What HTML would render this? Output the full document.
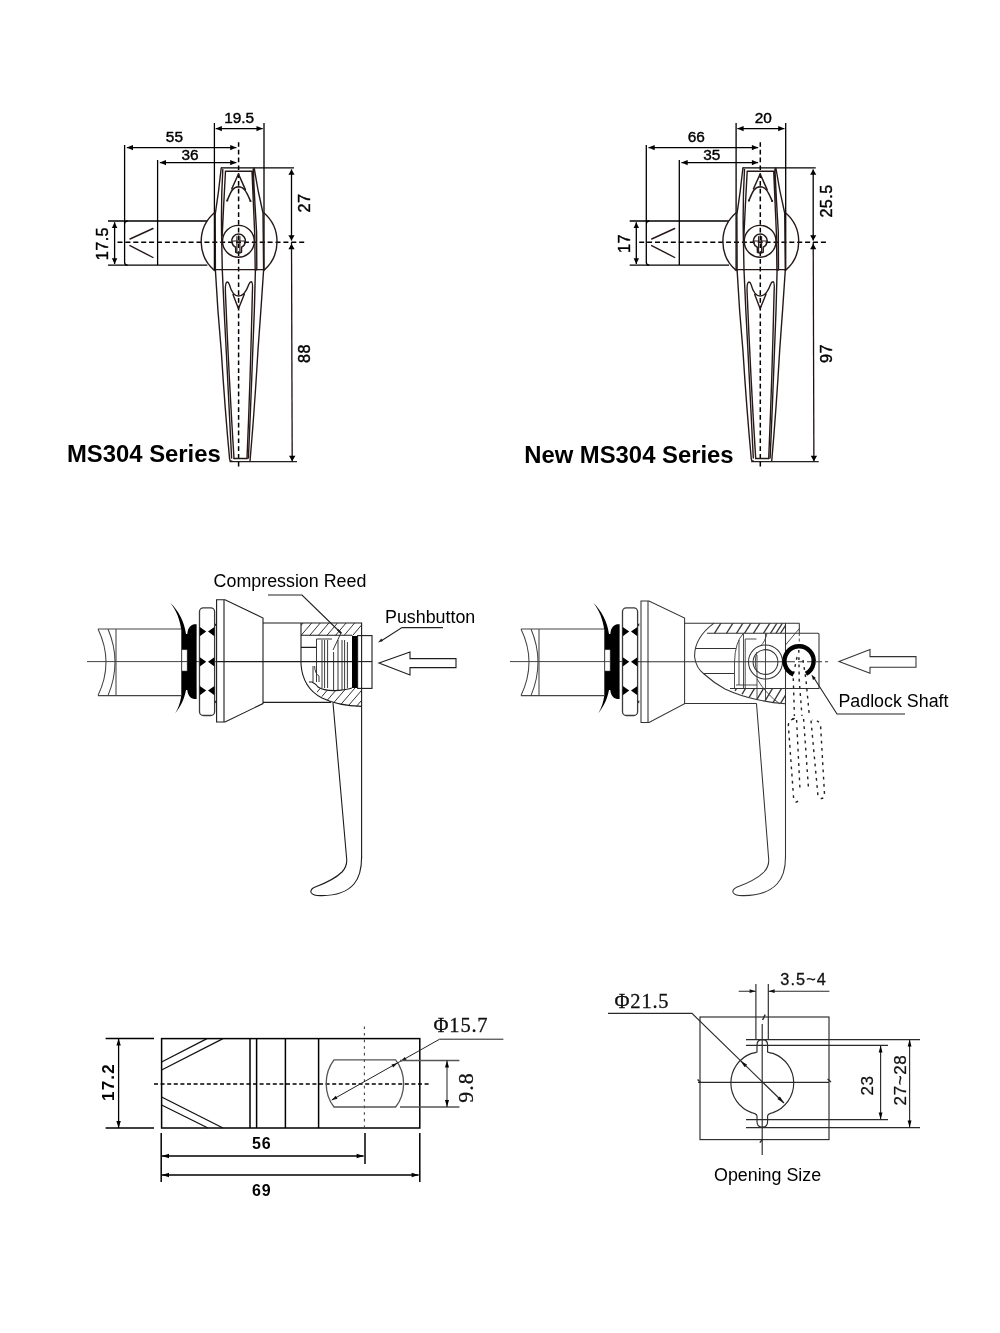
<!DOCTYPE html>
<html lang="en">
<head>
<meta charset="utf-8">
<title>MS304 Series Handle Lock Drawing</title>
<style>
html,body{margin:0;padding:0;background:#fff;}
body{width:1000px;height:1333px;overflow:hidden;font-family:"Liberation Sans",Arial,Helvetica,sans-serif;}
svg{display:block;position:absolute;left:0;top:0;will-change:transform;}
text{font-family:"Liberation Sans",Arial,Helvetica,sans-serif;fill:#000;}
.d{stroke:#000;stroke-width:1.3;fill:none;}
.c{stroke:#000;stroke-width:1.5;stroke-dasharray:5 2.9;fill:none;}
.h{stroke:#261818;stroke-width:1.4;stroke-linejoin:round;stroke-linecap:round;}
.t{stroke:#111;stroke-width:1.15;}
.tt{stroke:#222;stroke-width:0.9;}
.hh{stroke:#2a2a2a;stroke-width:0.95;}
#d3 .t{stroke:#1c1c1c;stroke-width:1.1;}
#d4 .t{stroke:#333;stroke-width:1.05;}
#d4 .tt{stroke:#3a3a3a;stroke-width:0.9;}
#d4 .p{stroke:#222;stroke-width:1.4;}
.k{fill:#000;stroke:none;}
.p{stroke:#111;stroke-width:1.5;stroke-dasharray:2.8 4.4;}
.r{stroke:#000;stroke-width:4.4;stroke-linecap:butt;}
.d5{stroke:#000;stroke-width:1.5;}
.d5t{stroke:#111;stroke-width:1.3;}
.c5{stroke:#000;stroke-width:1.3;stroke-dasharray:4 2.6;}
.c5v{stroke:#444;stroke-width:1.1;stroke-dasharray:2.6 4;}
.g5{stroke:#555;stroke-width:1.3;}
.g5d{stroke:#222;stroke-width:1;}
.g6{stroke:#2a2a2a;stroke-width:1.15;}
.dt{font-size:15.4px;text-anchor:middle;stroke:#000;stroke-width:0.4px;}
.dt2{font-size:16.2px;text-anchor:middle;stroke:#000;stroke-width:0.4px;letter-spacing:0.4px;}
.bt{font-size:16px;font-weight:bold;text-anchor:middle;letter-spacing:1px;}
.pt{font-size:17px;text-anchor:middle;fill:#111;letter-spacing:0.6px;stroke:#111;stroke-width:0.25px;}
.st{font-family:"Liberation Serif","DejaVu Serif",serif;font-size:20.5px;text-anchor:middle;fill:#111;letter-spacing:0.8px;stroke:#111;stroke-width:0.3px;}
.pt2{font-size:16.3px;text-anchor:middle;fill:#111;letter-spacing:1.1px;stroke:#111;stroke-width:0.3px;}
.lt{font-size:17.85px;}
.ld{stroke:#222;stroke-width:1.1;}
.title{font-size:23.85px;font-weight:bold;}
</style>
</head>
<body>
<svg width="1000" height="1333" viewBox="0 0 1000 1333">
<rect x="0" y="0" width="1000" height="1333" fill="#ffffff"/>
<g id="d1">
<line x1="214.4" y1="123" x2="214.4" y2="270" class="d"/>
<line x1="264" y1="123" x2="264" y2="270" class="d"/>
<line x1="215.7" y1="128.6" x2="262.7" y2="128.6" class="d"/><polygon points="215.7,128.6 221.9,126.0 221.9,131.2" fill="#000"/><polygon points="262.7,128.6 256.5,131.2 256.5,126.0" fill="#000"/>
<line x1="124.6" y1="145" x2="124.6" y2="222" class="d"/>
<line x1="126.8" y1="147.6" x2="236.4" y2="147.6" class="d"/><polygon points="126.8,147.6 133.0,145.0 133.0,150.2" fill="#000"/><polygon points="236.4,147.6 230.2,150.2 230.2,145.0" fill="#000"/>
<line x1="157.6" y1="160" x2="157.6" y2="265" class="d"/>
<line x1="159.8" y1="162.6" x2="236.4" y2="162.6" class="d"/><polygon points="159.8,162.6 166.0,160.0 166.0,165.2" fill="#000"/><polygon points="236.4,162.6 230.2,165.2 230.2,160.0" fill="#000"/>
<line x1="221" y1="167.8" x2="294" y2="167.8" class="d"/>
<line x1="229.5" y1="461.6" x2="297" y2="461.6" class="d" style="stroke:#222;stroke-width:1.3"/>
<line x1="291.5" y1="169.4" x2="291.5" y2="240.6" class="d"/><polygon points="291.5,169.4 294.6,174.8 288.4,174.8" fill="#000"/><polygon points="291.5,240.6 288.4,235.2 294.6,235.2" fill="#000"/>
<line x1="291.5" y1="242.2" x2="292.2" y2="461.7" class="d" style="stroke:#1c1010"/><polygon points="291.5,243.8 294.6,249.2 288.4,249.2" fill="#000"/><polygon points="292.2,461.2 289.0,455.8 295.4,455.8" fill="#000"/>
<line x1="108" y1="221" x2="207.3" y2="221" class="d"/>
<line x1="108" y1="265.2" x2="207.3" y2="265.2" class="d"/>
<line x1="114.6" y1="222.2" x2="114.6" y2="264" class="d"/><polygon points="114.6,222.2 117.3,228.0 111.9,228.0" fill="#000"/><polygon points="114.6,264.0 111.9,258.2 117.3,258.2" fill="#000"/>
<line x1="117.5" y1="242.2" x2="306.5" y2="242.2" class="c"/>
<line x1="238.6" y1="466.5" x2="238.6" y2="142.2" class="c" style="stroke-dasharray:4.7 3.1"/>
<path d="M124.6,222 V262.2 Q124.6,265.2 127.6,265.2 M124.6,224 Q124.6,221 127.6,221" class="d" style="fill:none"/>
<line x1="130" y1="239" x2="153" y2="228.5" class="h"/>
<line x1="130" y1="245.6" x2="153" y2="257.5" class="h"/>
<path d="M214.4,212.8 A38,38 0 0 0 214.6,270.6 M263.8,212.8 A38,38 0 0 1 263.6,270.6" class="h" style="fill:none"/>
<line x1="215" y1="269.6" x2="263.6" y2="269.6" class="h"/>
<path d="M221.2,168 Q219,190 215.2,214.5 L215.4,270 M222.8,169.5 Q221,200 221.6,235 L222.3,270 M225.3,171.2 H252 M225.5,171.2 Q223.6,205 222.2,236 M252,171.2 Q253.6,205 254.8,236 L255.2,270 M254.2,168 Q257.5,190 263,213 L263.6,270 M253.2,169 Q254.6,200 256.6,232 L256.8,270" class="h" style="fill:none"/>
<path d="M227.1,200.7 C230.3,193.5 232,186.8 238.46,186.7 C244.9,186.8 247.2,193.8 250.6,201.3" class="h" style="fill:none;stroke-width:1.5"/>
<path d="M231.8,188.8 L238.46,174 L245.4,189.6" class="h" style="fill:none;stroke-width:1.5"/>
<circle cx="227.3" cy="200.6" r="1" fill="#261818"/><circle cx="250.4" cy="201" r="1" fill="#261818"/>
<circle cx="238.4" cy="241.3" r="15.9" class="h" fill="none"/>
<path d="M235.6,247.2 A6.9,6.9 0 1 1 241.6,247.2 L241.4,252.4 Q238.6,253.8 235.8,252.4 Z" class="h" style="fill:none;stroke-width:1.5"/>
<path d="M236.9,236.6 V252.6 M239.9,236.6 V252.6 M232.4,241 H245" class="h" style="fill:none;stroke-width:1.1"/>
<path d="M215.4,270 Q217.5,310 221.2,350 Q225,410 229.6,459 Q229.8,461.2 232,461.3 M263.6,270 Q261,310 258,350 Q254.5,410 250,461.3 M222.3,270 Q224,310 226.2,350 Q229,410 231.6,458 M255.4,270 Q254.6,310 252.8,350 Q250.6,410 248.4,458 M234,458.5 H247" class="h" style="fill:none"/>
<path d="M234,458.5 Q229,380 225.4,292 Q225,282.4 227.2,282 Q228.6,282 229.4,284.6 C231,290.6 233.6,296 238.5,296 C243.6,296 246.6,290.6 248.8,284.4 Q249.8,281.8 251.4,281.8 Q253,282 252.4,292 Q250.4,380 247,458.5 M233,294.6 L238.46,308.7 L244.3,294.2" class="h" style="fill:none"/>
<text x="239.2" y="123.2" class="dt">19.5</text>
<text x="174.4" y="141.8" class="dt">55</text>
<text x="190" y="159.8" class="dt">36</text>
<text x="310" y="203" class="dt2" transform="rotate(-90 310 203)">27</text>
<text x="310" y="353.5" class="dt2" transform="rotate(-90 310 353.5)">88</text>
<text x="108.4" y="243.6" class="dt2" transform="rotate(-90 108.4 243.6)">17.5</text>
</g>
<g id="d2" transform="translate(521.7 0)">
<line x1="214.4" y1="123" x2="214.4" y2="270" class="d"/>
<line x1="264" y1="123" x2="264" y2="270" class="d"/>
<line x1="215.7" y1="128.6" x2="262.7" y2="128.6" class="d"/><polygon points="215.7,128.6 221.9,126.0 221.9,131.2" fill="#000"/><polygon points="262.7,128.6 256.5,131.2 256.5,126.0" fill="#000"/>
<line x1="124.6" y1="145" x2="124.6" y2="222" class="d"/>
<line x1="126.8" y1="147.6" x2="236.4" y2="147.6" class="d"/><polygon points="126.8,147.6 133.0,145.0 133.0,150.2" fill="#000"/><polygon points="236.4,147.6 230.2,150.2 230.2,145.0" fill="#000"/>
<line x1="157.6" y1="160" x2="157.6" y2="265" class="d"/>
<line x1="159.8" y1="162.6" x2="236.4" y2="162.6" class="d"/><polygon points="159.8,162.6 166.0,160.0 166.0,165.2" fill="#000"/><polygon points="236.4,162.6 230.2,165.2 230.2,160.0" fill="#000"/>
<line x1="221" y1="167.8" x2="294" y2="167.8" class="d"/>
<line x1="229.5" y1="461.6" x2="297" y2="461.6" class="d" style="stroke:#222;stroke-width:1.3"/>
<line x1="291.5" y1="169.4" x2="291.5" y2="240.6" class="d"/><polygon points="291.5,169.4 294.6,174.8 288.4,174.8" fill="#000"/><polygon points="291.5,240.6 288.4,235.2 294.6,235.2" fill="#000"/>
<line x1="291.5" y1="242.2" x2="292.2" y2="461.7" class="d" style="stroke:#1c1010"/><polygon points="291.5,243.8 294.6,249.2 288.4,249.2" fill="#000"/><polygon points="292.2,461.2 289.0,455.8 295.4,455.8" fill="#000"/>
<line x1="108" y1="221" x2="207.3" y2="221" class="d"/>
<line x1="108" y1="265.2" x2="207.3" y2="265.2" class="d"/>
<line x1="114.6" y1="222.2" x2="114.6" y2="264" class="d"/><polygon points="114.6,222.2 117.3,228.0 111.9,228.0" fill="#000"/><polygon points="114.6,264.0 111.9,258.2 117.3,258.2" fill="#000"/>
<line x1="117.5" y1="242.2" x2="306.5" y2="242.2" class="c"/>
<line x1="238.6" y1="466.5" x2="238.6" y2="142.2" class="c" style="stroke-dasharray:4.7 3.1"/>
<path d="M124.6,222 V262.2 Q124.6,265.2 127.6,265.2 M124.6,224 Q124.6,221 127.6,221" class="d" style="fill:none"/>
<line x1="130" y1="239" x2="153" y2="228.5" class="h"/>
<line x1="130" y1="245.6" x2="153" y2="257.5" class="h"/>
<path d="M214.4,212.8 A38,38 0 0 0 214.6,270.6 M263.8,212.8 A38,38 0 0 1 263.6,270.6" class="h" style="fill:none"/>
<line x1="215" y1="269.6" x2="263.6" y2="269.6" class="h"/>
<path d="M221.2,168 Q219,190 215.2,214.5 L215.4,270 M222.8,169.5 Q221,200 221.6,235 L222.3,270 M225.3,171.2 H252 M225.5,171.2 Q223.6,205 222.2,236 M252,171.2 Q253.6,205 254.8,236 L255.2,270 M254.2,168 Q257.5,190 263,213 L263.6,270 M253.2,169 Q254.6,200 256.6,232 L256.8,270" class="h" style="fill:none"/>
<path d="M227.1,200.7 C230.3,193.5 232,186.8 238.46,186.7 C244.9,186.8 247.2,193.8 250.6,201.3" class="h" style="fill:none;stroke-width:1.5"/>
<path d="M231.8,188.8 L238.46,174 L245.4,189.6" class="h" style="fill:none;stroke-width:1.5"/>
<circle cx="227.3" cy="200.6" r="1" fill="#261818"/><circle cx="250.4" cy="201" r="1" fill="#261818"/>
<circle cx="238.4" cy="241.3" r="15.9" class="h" fill="none"/>
<path d="M235.6,247.2 A6.9,6.9 0 1 1 241.6,247.2 L241.4,252.4 Q238.6,253.8 235.8,252.4 Z" class="h" style="fill:none;stroke-width:1.5"/>
<path d="M236.9,236.6 V252.6 M239.9,236.6 V252.6 M232.4,241 H245" class="h" style="fill:none;stroke-width:1.1"/>
<path d="M215.4,270 Q217.5,310 221.2,350 Q225,410 229.6,459 Q229.8,461.2 232,461.3 M263.6,270 Q261,310 258,350 Q254.5,410 250,461.3 M222.3,270 Q224,310 226.2,350 Q229,410 231.6,458 M255.4,270 Q254.6,310 252.8,350 Q250.6,410 248.4,458 M234,458.5 H247" class="h" style="fill:none"/>
<path d="M234,458.5 Q229,380 225.4,292 Q225,282.4 227.2,282 Q228.6,282 229.4,284.6 C231,290.6 233.6,296 238.5,296 C243.6,296 246.6,290.6 248.8,284.4 Q249.8,281.8 251.4,281.8 Q253,282 252.4,292 Q250.4,380 247,458.5 M233,294.6 L238.46,308.7 L244.3,294.2" class="h" style="fill:none"/>
<text x="241.6" y="123.2" class="dt">20</text>
<text x="174.5" y="141.8" class="dt">66</text>
<text x="190.1" y="159.8" class="dt">35</text>
<text x="310" y="201" class="dt2" transform="rotate(-90 310 201)">25.5</text>
<text x="310" y="353.5" class="dt2" transform="rotate(-90 310 353.5)">97</text>
<text x="108.4" y="243.6" class="dt2" transform="rotate(-90 108.4 243.6)">17</text>
</g>
<text x="67" y="461.8" class="title">MS304 Series</text>
<text x="524.2" y="463" class="title">New MS304 Series</text>
<g id="d3">
<line x1="87" y1="661.6" x2="216" y2="661.6" class="t" style="stroke:#444;stroke-width:1"/>
<path d="M98,629 H181 M98,695.6 H181 M116,629 V695.6" class="t" style="fill:none;stroke:#444;stroke-width:1.05"/>
<path d="M98,629 Q114,662 98,695.6 M108,629 Q122,662 108,695.6" class="t" style="fill:none;stroke:#444;stroke-width:1.05"/>
<path d="M170.2,602.8 C176,609.5 180,620 181.3,630 L181.3,695 C180.6,702 178,709 175.1,713.5 C180.5,707 184.4,699 186,690 L188,690 L188,634 L186,634 C184.4,622 178.4,610.4 170.2,602.8 Z" class="k"/>
<path d="M196.6,624.3 L194,624.3 C190,625 187.2,629 187.2,636 L187.2,688 C187.2,695 190,698.3 194,698.9 L196.6,698.9 Z" class="k"/>
<rect x="181.9" y="649.8" width="5.2" height="21.2" fill="#fff" stroke="#444" stroke-width="0.5"/>
<line x1="181.5" y1="661.6" x2="187.4" y2="661.6" class="tt"/>
<rect x="199.5" y="607.8" width="15.1" height="107.7" rx="3.8" fill="#fff" stroke="#3a3a3a" stroke-width="1.3"/>
<polygon points="199.8,627.0 199.8,636.2 206.2,631.6" fill="#000"/>
<polygon points="214.4,627.0 214.4,636.2 208,631.6" fill="#000"/>
<polygon points="199.8,657.1999999999999 199.8,666.4 206.2,661.8" fill="#000"/>
<polygon points="214.4,657.1999999999999 214.4,666.4 208,661.8" fill="#000"/>
<polygon points="199.8,686.0 199.8,695.2 206.2,690.6" fill="#000"/>
<polygon points="214.4,686.0 214.4,695.2 208,690.6" fill="#000"/>
<polygon points="216.2,623 216.2,626.6 214.8,625" fill="#000"/><polygon points="216.2,700 216.2,703.6 214.8,702" fill="#000"/>
<path d="M216.6,599.8 H225 L263,618 V703.6 L225,722 H216.6 Z M224,599.8 V722" class="t" style="fill:none"/>
<path d="M263,623 H361.6 V858 M263,702.4 H331 M216,661.6 H372" class="t" style="fill:none"/>
<clipPath id="hc3a"><path d="M301,623 H361.6 V635.4 H301 Z"/></clipPath>
<g clip-path="url(#hc3a)"><line x1="292" y1="636" x2="303.5" y2="622.5" class="hh"/><line x1="300.6" y1="636" x2="312.1" y2="622.5" class="hh"/><line x1="309.2" y1="636" x2="320.7" y2="622.5" class="hh"/><line x1="317.8" y1="636" x2="329.3" y2="622.5" class="hh"/><line x1="326.4" y1="636" x2="337.9" y2="622.5" class="hh"/><line x1="335" y1="636" x2="346.5" y2="622.5" class="hh"/><line x1="343.6" y1="636" x2="355.1" y2="622.5" class="hh"/><line x1="352.2" y1="636" x2="363.7" y2="622.5" class="hh"/><line x1="360.8" y1="636" x2="372.3" y2="622.5" class="hh"/></g>
<clipPath id="hc3b"><path d="M309,682 H312 Q316,684 318,687 Q323,690.4 334,690.6 Q345,690.4 352,688 H361.6 V706.4 Q346,706 334,703 Q318,698 309,682 Z"/></clipPath>
<g clip-path="url(#hc3b)"><line x1="300" y1="712" x2="324" y2="684" class="hh"/><line x1="308.6" y1="712" x2="332.6" y2="684" class="hh"/><line x1="317.2" y1="712" x2="341.2" y2="684" class="hh"/><line x1="325.8" y1="712" x2="349.8" y2="684" class="hh"/><line x1="334.4" y1="712" x2="358.4" y2="684" class="hh"/><line x1="343" y1="712" x2="367" y2="684" class="hh"/><line x1="351.6" y1="712" x2="375.6" y2="684" class="hh"/><line x1="360.2" y1="712" x2="384.2" y2="684" class="hh"/><line x1="368.8" y1="712" x2="392.8" y2="684" class="hh"/></g>
<path d="M301,623 V664 Q302.6,688 322,698 Q338,705.8 361.6,706.4 M301,635.2 H352 M301,647.4 H316.5 M309,682 H312 Q316,684 318,687 Q323,690.4 334,690.6 Q345,690.4 352,688" class="t" style="fill:none"/>
<path d="M316.5,639 V682 M316.5,639 H332 M322,640 V688 M324.6,640 V688 M327.6,640 V688 M333.6,652 V690 M338,640 V690 M342,640 V690 M344.6,640 V690 M347.4,642 V688 M313,666 V682 M314.6,666 Q315,674 319,676 V682" class="tt" style="fill:none"/>
<rect x="352" y="636" width="5.6" height="52" fill="#000"/>
<rect x="357.6" y="635.6" width="14.4" height="52.8" fill="#fff" class="t"/>
<line x1="357.6" y1="661.6" x2="372" y2="661.6" class="t"/>
<line x1="361.6" y1="635.6" x2="361.6" y2="688.4" class="t"/>
<path d="M333,703 L346.6,858 Q347.6,866 342,872 Q334,880 314,887.6 Q309.6,890 311.4,893 Q313.6,896 322,895.6 Q344,895.6 354,884 Q361.6,875 361.6,857" class="t" style="fill:none"/>
<path d="M268,595 H302 L341,633" class="ld" style="fill:none"/>
<path d="M341,633 L333,650" class="tt" style="fill:none"/>
<path d="M337.6,629.6 L341.4,633.4" class="t" style="fill:none;stroke-width:1.8"/>
<path d="M443,627.6 H402 L381,641" class="ld" style="fill:none"/>
<polygon points="378.0,642.6 381.3,638.5 383.0,641.1" fill="#222"/>
<path d="M379,663 L410,652 V658.6 H456 V667.6 H410 V675 Z" class="t" style="fill:none"/>
<text x="213.6" y="587" class="lt">Compression Reed</text>
<text x="385" y="622.6" class="lt">Pushbutton</text>
</g>
<g id="d4">
<g transform="translate(423 0)"><line x1="87" y1="661.6" x2="216" y2="661.6" class="t" style="stroke:#444;stroke-width:1"/>
<path d="M98,629 H181 M98,695.6 H181 M116,629 V695.6" class="t" style="fill:none;stroke:#444;stroke-width:1.05"/>
<path d="M98,629 Q114,662 98,695.6 M108,629 Q122,662 108,695.6" class="t" style="fill:none;stroke:#444;stroke-width:1.05"/>
<path d="M170.2,602.8 C176,609.5 180,620 181.3,630 L181.3,695 C180.6,702 178,709 175.1,713.5 C180.5,707 184.4,699 186,690 L188,690 L188,634 L186,634 C184.4,622 178.4,610.4 170.2,602.8 Z" class="k"/>
<path d="M196.6,624.3 L194,624.3 C190,625 187.2,629 187.2,636 L187.2,688 C187.2,695 190,698.3 194,698.9 L196.6,698.9 Z" class="k"/>
<rect x="181.9" y="649.8" width="5.2" height="21.2" fill="#fff" stroke="#444" stroke-width="0.5"/>
<line x1="181.5" y1="661.6" x2="187.4" y2="661.6" class="tt"/>
<rect x="199.5" y="607.8" width="15.1" height="107.7" rx="3.8" fill="#fff" stroke="#3a3a3a" stroke-width="1.3"/>
<polygon points="199.8,627.0 199.8,636.2 206.2,631.6" fill="#000"/>
<polygon points="214.4,627.0 214.4,636.2 208,631.6" fill="#000"/>
<polygon points="199.8,657.1999999999999 199.8,666.4 206.2,661.8" fill="#000"/>
<polygon points="214.4,657.1999999999999 214.4,666.4 208,661.8" fill="#000"/>
<polygon points="199.8,686.0 199.8,695.2 206.2,690.6" fill="#000"/>
<polygon points="214.4,686.0 214.4,695.2 208,690.6" fill="#000"/>
<polygon points="216.2,623 216.2,626.6 214.8,625" fill="#000"/><polygon points="216.2,700 216.2,703.6 214.8,702" fill="#000"/></g>
<path d="M641,601 H649 L684.6,618 V703.6 L649,722.4 H641 Z M648,601 V722.4" class="t" style="fill:none"/>
<path d="M684.6,623.2 H799.5 M684.6,703.5 H756.5 M638,661.8 H789 M785.5,623.2 V858 M799.3,623.2 V633" class="t" style="fill:none"/>
<path d="M789,661.8 H828" class="t" style="fill:none;stroke-dasharray:6 3"/>
<path d="M799.3,633 V648" class="tt" style="fill:none;stroke-dasharray:3 2.5"/>
<clipPath id="hc4a"><path d="M714,623.2 H785.5 V633.2 H706 Q709,627 714,623.2 Z"/></clipPath>
<g clip-path="url(#hc4a)"><line x1="704" y1="634" x2="711.4" y2="622.4" class="t" style="stroke-width:1.3"/><line x1="714" y1="634" x2="721.4" y2="622.4" class="t" style="stroke-width:1.3"/><line x1="726" y1="634" x2="733.4" y2="622.4" class="t" style="stroke-width:1.3"/><line x1="736" y1="634" x2="743.4" y2="622.4" class="t" style="stroke-width:1.3"/><line x1="744" y1="634" x2="751.4" y2="622.4" class="t" style="stroke-width:1.3"/><line x1="753" y1="634" x2="760.4" y2="622.4" class="t" style="stroke-width:1.3"/><line x1="763" y1="634" x2="770.4" y2="622.4" class="t" style="stroke-width:1.3"/><line x1="770" y1="634" x2="777.4" y2="622.4" class="t" style="stroke-width:1.3"/><line x1="775.5" y1="634" x2="782.9" y2="622.4" class="t" style="stroke-width:1.3"/><line x1="780" y1="634" x2="787.4" y2="622.4" class="t" style="stroke-width:1.3"/></g>
<clipPath id="hc4b"><path d="M730,688 H785.5 V703.6 Q770,702.4 756.5,699 Q742,695.6 730,688 Z"/></clipPath>
<g clip-path="url(#hc4b)"><line x1="726" y1="706" x2="738" y2="686" class="t" style="stroke-width:1.3"/><line x1="735" y1="706" x2="747" y2="686" class="t" style="stroke-width:1.3"/><line x1="744" y1="706" x2="756" y2="686" class="t" style="stroke-width:1.3"/><line x1="753" y1="706" x2="765" y2="686" class="t" style="stroke-width:1.3"/><line x1="762" y1="706" x2="774" y2="686" class="t" style="stroke-width:1.3"/><line x1="771" y1="706" x2="783" y2="686" class="t" style="stroke-width:1.3"/><line x1="779" y1="706" x2="791" y2="686" class="t" style="stroke-width:1.3"/></g>
<path d="M714,623.2 Q694,638 694.6,657 Q696,668 704,674 Q714,683 725,689 Q740,696 756.5,699.4 Q770,702.6 785.5,703.8 M707,633.2 H818 Q819,633.2 819,634.2 V688.4 H730 M696,648.5 H736 M704,673.5 H734" class="t" style="fill:none"/>
<path d="M743.5,633.2 Q735,642 734.5,662 V688 M739,640 V685 M743.5,633.2 V688 M745.2,639 V688 M745.2,639 H756.5 M736,685 H757 M757,655 V700 M765.5,633.2 V700 M767,633.2 Q765,642 760.5,646 M757,679 Q766,694 780,704 M785.5,645 L799.3,628.6" class="tt" style="fill:none"/>
<circle cx="765.5" cy="662" r="17" class="t" fill="none"/><circle cx="765.5" cy="662" r="12.4" class="t" fill="none"/>
<path d="M757,652 Q753.6,662 757,672" class="tt" style="fill:none"/>
<path d="M797,657 L793.2,675 L794.4,716 M798.8,650 L799.2,680 L802,716 M803,660 L806,680 L809.4,716 M794,719 Q788,720 788.4,726 L793.6,798 Q795,804 798,801 M796.6,720 L800,790 M803.6,719 L808.6,790 M811,720.6 L818,796 Q822,801 824.6,796 L820.6,726 Q820,720 812,720 M792,719 L798,717.6" class="p" style="fill:none"/>
<path d="M793.5,674.4 A14.6,14.6 0 1 1 805.9,673.8" class="r" style="fill:none"/>
<path d="M814,678 L837,714 H905" class="ld" style="fill:none"/>
<polygon points="811.4,674.4 815.8,678.1 813.0,679.9" fill="#111"/>
<path d="M839,661.4 L870,649.6 V656.6 H916 V667.2 H870 V673.3 Z" class="t" style="fill:none"/>
<path d="M756.5,703.5 L768.6,858 Q769.6,866 764,872 Q756,880 736,887.6 Q731.6,890 733.4,893 Q735.6,896 744,895.6 Q766,895.6 777,884 Q785.5,875 785.5,857" class="t" style="fill:none"/>
<text x="838.4" y="706.8" class="lt">Padlock Shaft</text>
</g>
<g id="d5">
<rect x="161.6" y="1038.6" width="258.2" height="89.4" class="d5" fill="none"/>
<path d="M250,1038.6 V1128 M256.6,1038.6 V1128 M285.4,1038.6 V1128 M318.6,1038.6 V1128" class="d5" style="fill:none"/>
<path d="M161.6,1062 L207,1038.6 M161.6,1070 L223,1038.6 M161.6,1097 L223,1128 M161.6,1105 L208,1128" class="d5t" style="fill:none"/>
<line x1="154" y1="1084" x2="431" y2="1084" class="c5"/>
<line x1="364.4" y1="1026.4" x2="364.4" y2="1128" class="c5v"/>
<path d="M334,1059.8 H395.6 Q403.6,1070 403.6,1083.4 Q403.6,1097 395.6,1107 H334 Q326.2,1097 326.2,1083.4 Q326.2,1070 334,1059.8 Z" class="g5" style="fill:none"/>
<line x1="105.6" y1="1038.6" x2="154" y2="1038.6" class="d5"/>
<line x1="105.6" y1="1128" x2="154" y2="1128" class="d5"/>
<line x1="118.6" y1="1038.6" x2="118.6" y2="1128" class="d"/><polygon points="118.6,1038.6 120.8,1045.6 116.4,1045.6" fill="#000"/><polygon points="118.6,1128.0 116.4,1121.0 120.8,1121.0" fill="#000"/>
<line x1="161.2" y1="1133" x2="161.2" y2="1182" class="d5"/>
<line x1="365" y1="1133" x2="365" y2="1164" class="d5"/>
<line x1="419.8" y1="1133" x2="419.8" y2="1182" class="d5"/>
<line x1="162" y1="1156" x2="363.6" y2="1156" class="d5"/><polygon points="162.0,1156.0 169.0,1153.8 169.0,1158.2" fill="#000"/><polygon points="363.6,1156.0 356.6,1158.2 356.6,1153.8" fill="#000"/>
<line x1="162" y1="1175" x2="418.6" y2="1175" class="d5"/><polygon points="162.0,1175.0 169.0,1172.8 169.0,1177.2" fill="#000"/><polygon points="418.6,1175.0 411.6,1177.2 411.6,1172.8" fill="#000"/>
<path d="M331.8,1100 L439.6,1039.2 H503.4" class="g5d" style="fill:none"/>
<polygon points="331.4,1100.2 335.8,1095.8 337.5,1098.7" fill="#111"/>
<polygon points="397.6,1063.0 393.2,1067.4 391.5,1064.5" fill="#111"/>
<polygon points="400.4,1061.4 404.8,1057.0 406.5,1059.9" fill="#111"/>
<line x1="400" y1="1060.5" x2="459.4" y2="1060.5" class="g5"/>
<line x1="400" y1="1107" x2="459.4" y2="1107" class="g5"/>
<line x1="447" y1="1060.5" x2="447" y2="1107" class="g5d"/><polygon points="447.0,1060.5 449.0,1067.5 445.0,1067.5" fill="#000"/><polygon points="447.0,1107.0 445.0,1100.0 449.0,1100.0" fill="#000"/>
<text x="113.8" y="1082" class="bt" transform="rotate(-90 113.8 1082)" style="font-size:17px;letter-spacing:1.2px">17.2</text>
<text x="261.8" y="1149" class="bt">56</text>
<text x="261.8" y="1195.6" class="bt">69</text>
<text x="461" y="1032" class="st">Φ15.7</text>
<text x="473.4" y="1087.4" class="st" transform="rotate(-90 473.4 1087.4)" style="font-size:22px;letter-spacing:1px">9.8</text>
</g>
<g id="d6">
<rect x="700" y="1017" width="129" height="122.6" class="g6" fill="none"/>
<line x1="698" y1="1082.4" x2="829" y2="1082.4" class="g6"/>
<line x1="762.2" y1="1024" x2="762.2" y2="1155" class="g6"/>
<path d="M762.6,1020 L765.2,1014.6 M697.6,1079.6 L700.6,1082.4 M827.6,1079 L831,1082 M759.8,1142.6 L762.6,1139.2" class="g6" style="fill:none;stroke-width:1.4"/>
<path d="M755.9,984 V1040 M768.3,984 V1040" class="g6" style="fill:none"/>
<path d="M757,1052 V1045 Q757,1039.6 762.3,1039.6 Q767.6,1039.6 767.6,1045 V1052 Q770,1053 773,1053.4 A31.5,31.5 0 0 1 773,1112.6 Q768,1113.6 767.6,1116 V1121.4 Q767.6,1127 762.3,1127 Q757,1127 757,1121.4 V1116 Q756.6,1113.6 751.6,1112.6 A31.5,31.5 0 0 1 751.6,1053.4 Q755,1053 757,1052 Z" class="g6" style="fill:none"/>
<path d="M746,1039.6 H920 M746,1045.4 H888 M746,1119.6 H888 M746,1127.6 H920" class="g6" style="fill:none"/>
<line x1="880.6" y1="1045.4" x2="880.6" y2="1119.6" class="g6"/><polygon points="880.6,1045.4 882.5,1052.4 878.7,1052.4" fill="#000"/><polygon points="880.6,1119.6 878.7,1112.6 882.5,1112.6" fill="#000"/>
<line x1="909.6" y1="1039.6" x2="909.6" y2="1127.6" class="g6"/><polygon points="909.6,1039.6 911.5,1046.6 907.7,1046.6" fill="#000"/><polygon points="909.6,1127.6 907.7,1120.6 911.5,1120.6" fill="#000"/>
<path d="M738.7,991.2 H755.9 M768.3,991.2 H829.4" class="g6" style="fill:none"/>
<polygon points="755.6,991.2 749.6,993.1 749.6,989.3" fill="#111"/>
<polygon points="768.6,991.2 774.6,989.3 774.6,993.1" fill="#111"/>
<path d="M608,1013.4 H692 L784,1103" class="g6" style="fill:none"/>
<polygon points="784.4,1103.4 777.4,1099.1 779.9,1096.5" fill="#111"/>
<polygon points="740.2,1060.4 747.2,1064.7 744.7,1067.3" fill="#111"/>
<text x="642" y="1008.4" class="st">Φ21.5</text>
<text x="803.6" y="985.4" class="pt2">3.5~4</text>
<text x="872.8" y="1085.4" class="pt" transform="rotate(-90 872.8 1085.4)">23</text>
<text x="906" y="1080" class="pt" transform="rotate(-90 906 1080)">27~28</text>
<text x="714" y="1181" class="lt">Opening Size</text>
</g>
</svg>
</body>
</html>
